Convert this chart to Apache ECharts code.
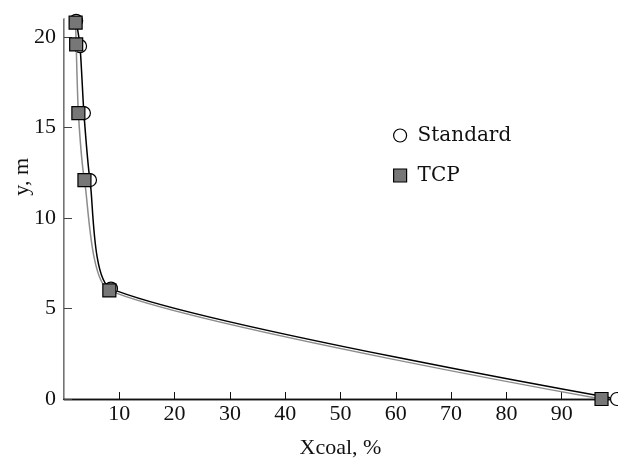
<!DOCTYPE html>
<html>
<head>
<meta charset="utf-8">
<script src="https://cdn.jsdelivr.net/npm/echarts@6/dist/echarts.min.js"></script>
<style>
  html, body { margin: 0; padding: 0; background: #fff; }
  #chart { width: 618px; height: 464px; }
</style>
</head>
<body>
<div id="chart"></div>
<script>
// values: [Xcoal %, y m]
const standardData = [[100, 0], [8.5, 6.1], [4.7, 12.1], [3.6, 15.8], [2.9, 19.5], [2.2, 20.9]]
const tcpData = [[97.2, 0], [8.2, 6.0], [3.7, 12.1], [2.6, 15.8], [2.2, 19.6], [2.1, 20.8]]
const xTicks = { min: 0, max: 100, interval: 10 }
const yTicks = { min: 0, max: 21, interval: 5 }

const font = 'Liberation Serif'
const myChart = echarts.init(document.getElementById('chart'))

let option = {
    animation: false,
    grid: { left: 64, right: 1, top: 19, bottom: 65 },
    legend: {
        orient: 'vertical',
        left: 388,
        top: 120,
        itemWidth: 13,
        itemHeight: 13,
        itemGap: 19,
        textStyle: { fontFamily: 'DejaVu Serif', fontSize: 20, color: '#111', lineHeight: 21, padding: [0, 0, 0, 6] },
        data: [
            { name: 'Standard', icon: 'circle', itemStyle: { color: '#fff', borderColor: '#000', borderWidth: 1.2 } },
            { name: 'TCP', icon: 'rect', itemStyle: { color: '#777', borderColor: '#000', borderWidth: 1.2 } }
        ]
    },
    graphic: [{
        type: 'text',
        left: 11,
        top: 158,
        rotation: Math.PI / 2,
        style: { text: 'y, m', font: '22px "Liberation Serif"', fill: '#111' }
    }],
    xAxis: [{
        type: 'value',
        min: xTicks.min,
        max: xTicks.max,
        interval: xTicks.interval,
        name: 'Xcoal, %',
        nameLocation: 'middle',
        nameGap: 38,
        nameTextStyle: { fontFamily: font, fontSize: 22, color: '#111' },
        axisLine: { lineStyle: { color: '#111', width: 1.3 } },
        axisTick: { inside: true, length: 7, lineStyle: { color: '#111' } },
        axisLabel: { showMinLabel: false, showMaxLabel: false, fontFamily: font, fontSize: 22, color: '#111', margin: 4 },
        splitLine: { show: false }
    }, {
        type: 'value',
        position: 'top',
        min: xTicks.min,
        max: xTicks.max,
        axisLine: { show: true, lineStyle: { color: '#111', width: 1.3 } },
        axisTick: { show: false },
        axisLabel: { show: false },
        splitLine: { show: false }
    }],
    yAxis: [{
        type: 'value',
        min: yTicks.min,
        max: yTicks.max,
        interval: yTicks.interval,
        axisLine: { show: true, lineStyle: { color: '#444', width: 1.5 } },
        axisTick: { inside: true, length: 8, lineStyle: { color: '#444' } },
        axisLabel: { showMaxLabel: false, fontFamily: font, fontSize: 22, color: '#111', margin: 8 },
        splitLine: { show: false }
    }, {
        type: 'value',
        position: 'right',
        min: yTicks.min,
        max: yTicks.max,
        axisLine: { show: true, lineStyle: { color: '#aaa', width: 1 } },
        axisTick: { show: false },
        axisLabel: { show: false },
        splitLine: { show: false }
    }],
    series: [
        {
            name: 'Standard',
            type: 'line',
            smooth: 0.2,
            data: standardData,
            symbol: 'circle',
            symbolSize: 13,
            clip: false,
            lineStyle: { color: '#000', width: 1.5 },
            itemStyle: { color: '#fff', borderColor: '#000', borderWidth: 1.2 },
            z: 2
        },
        {
            name: 'TCP',
            type: 'line',
            smooth: 0.2,
            data: tcpData,
            symbol: 'rect',
            symbolSize: 13,
            clip: false,
            lineStyle: { color: '#8c8c8c', width: 1.5 },
            itemStyle: { color: '#777', borderColor: '#000', borderWidth: 1.2 },
            z: 3
        }
    ]
}

myChart.setOption(option)
</script>
</body>
</html>
